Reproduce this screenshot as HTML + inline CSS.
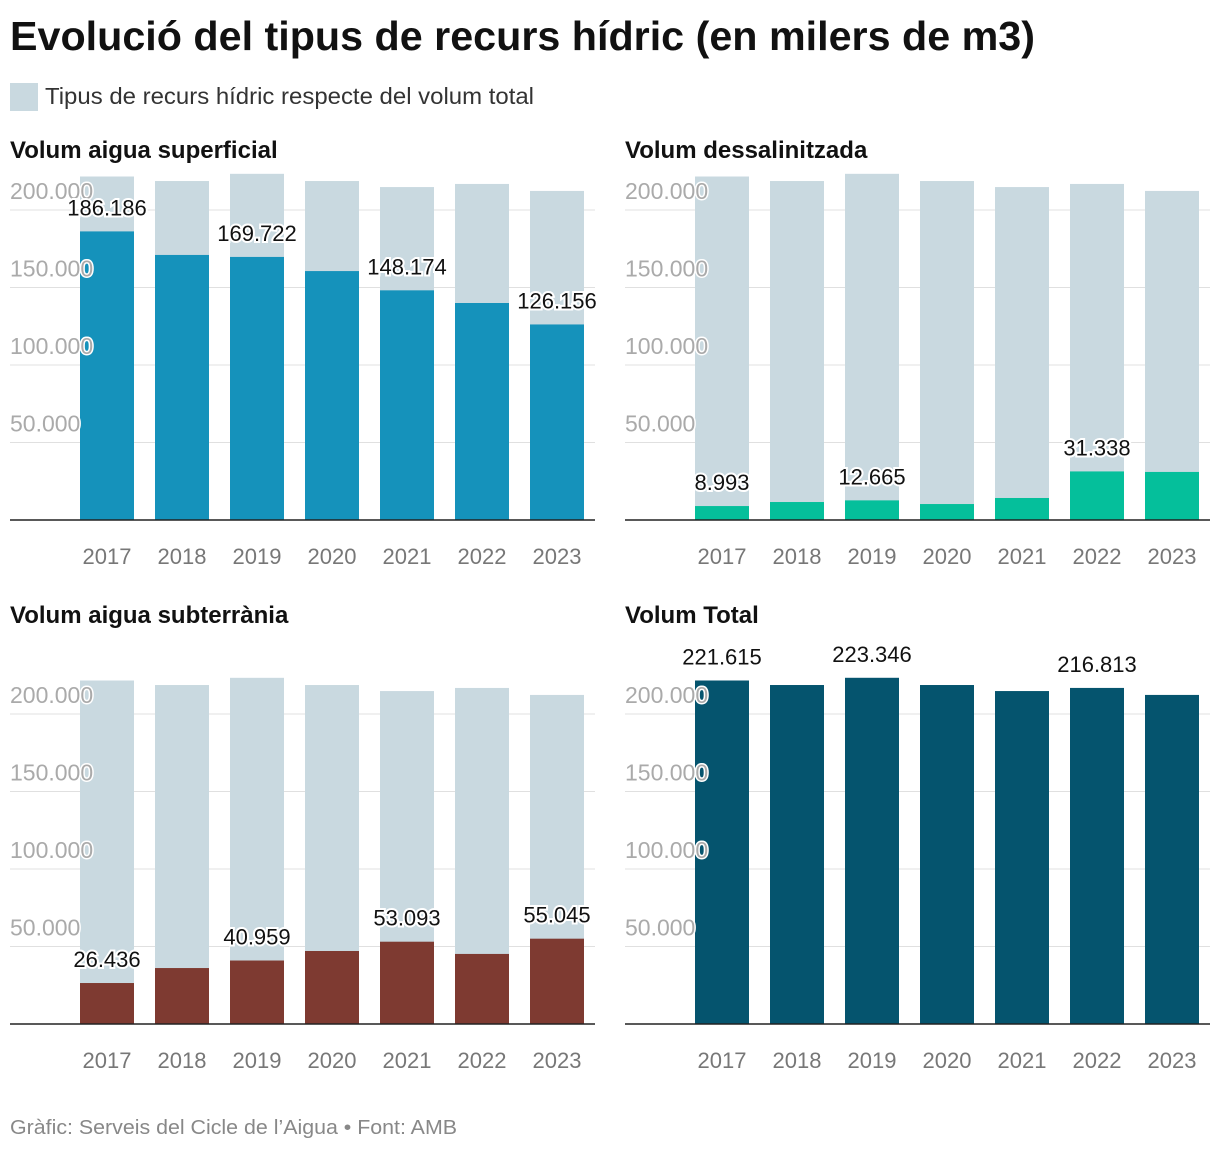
<!DOCTYPE html>
<html><head><meta charset="utf-8">
<style>
body{margin:0;background:#fff;font-family:"Liberation Sans",Arial,sans-serif;}
svg text{font-family:"Liberation Sans",Arial,sans-serif;}
</style></head>
<body>
<svg id="chart" width="1220" height="1152" xmlns="http://www.w3.org/2000/svg">
<text x="10" y="50" font-size="41" font-weight="bold" fill="#111" textLength="1025" lengthAdjust="spacingAndGlyphs">Evolució del tipus de recurs hídric (en milers de m3)</text>
<rect x="10" y="83" width="28" height="28" fill="#c9d9e0"/>
<text x="45" y="104" font-size="23" fill="#333" textLength="489" lengthAdjust="spacingAndGlyphs">Tipus de recurs hídric respecte del volum total</text>
<text x="10" y="1134" font-size="20" fill="#888" textLength="447" lengthAdjust="spacingAndGlyphs">Gràfic: Serveis del Cicle de l’Aigua • Font: AMB</text>
</svg>
<script>
const years = ['2017','2018','2019','2020','2021','2022','2023'];
const totalVals = [221615, 218700, 223346, 218700, 214800, 216813, 212300];
const superVals = [186186, 171000, 169722, 160600, 148174, 140000, 126156];
const desalVals = [8993, 11600, 12665, 10300, 14200, 31338, 31000];
const subVals = [26436, 36100, 40959, 47100, 53093, 45200, 55045];
const ticks = [50000, 100000, 150000, 200000];
const superLabels = [0, 2, 4, 6];
const desalLabels = [0, 2, 5];
const subLabels = [0, 2, 4, 6];
const totalLabels = [0, 2, 5];

const NS = 'http://www.w3.org/2000/svg';
const svg = document.getElementById('chart');
function fmt(v){return String(v).replace(/\B(?=(\d{3})+(?!\d))/g,'.');}
function mk(tag, attrs, parent){const e=document.createElementNS(NS,tag);for(const k in attrs)e.setAttribute(k,attrs[k]);(parent||svg).appendChild(e);return e;}

function panel(name, title, x0, base, titleY, vals, color, labelIdx){
  const g = mk('g',{});
  
  
  const yS = v => base - v * 77.5 / 50000;
  const xS = i => x0 + 97 + i * 75;
  const t = mk('text',{x:x0,y:titleY,'font-size':24,'font-weight':'bold',fill:'#111'},g);
  t.textContent = title;
  
  
  ticks.forEach(v=>{
    const l = mk('line',{x1:x0,x2:x0+585,y1:yS(v),y2:yS(v),stroke:'#e0e0e0','stroke-width':1},g);
    
    
  });
  years.forEach((y,i)=>{
    const bg = mk('rect',{x:xS(i)-27,width:54,y:yS(totalVals[i]),height:base-yS(totalVals[i]),fill:'#c9d9e0'},g);
    
    
    const b = mk('rect',{x:xS(i)-27,width:54,y:yS(vals[i]),height:base-yS(vals[i]),fill:color},g);
    
    
    const yl = mk('text',{x:xS(i),y:base+44,'text-anchor':'middle','font-size':22,fill:'#777'},g);
    yl.textContent = y;
    
    
  });
  ticks.forEach(v=>{
    const tl = mk('text',{x:x0,y:yS(v)-11,'font-size':23,fill:'#aaa',stroke:'#fff','stroke-width':3,'paint-order':'stroke'},g);
    tl.textContent = fmt(v);
    
    
  });
  labelIdx.forEach(i=>{
    const vl = mk('text',{x:xS(i),y:yS(vals[i])-16,'text-anchor':'middle','font-size':22,fill:'#111',stroke:'#fff','stroke-width':4,'paint-order':'stroke'},g);
    vl.textContent = fmt(vals[i]);
    
    
  });
  const ax = mk('line',{x1:x0,x2:x0+585,y1:base,y2:base,stroke:'#222','stroke-width':1.5},g);
  
  
}
panel('panel-superficial','Volum aigua superficial',10,520,158,superVals,'#1592bb',superLabels);
panel('panel-dessalinitzada','Volum dessalinitzada',625,520,158,desalVals,'#05bf9b',desalLabels);
panel('panel-subterrania','Volum aigua subterrània',10,1024,623,subVals,'#7e3a31',subLabels);
panel('panel-total','Volum Total',625,1024,623,totalVals,'#05546e',totalLabels);
</script>
</body></html>
